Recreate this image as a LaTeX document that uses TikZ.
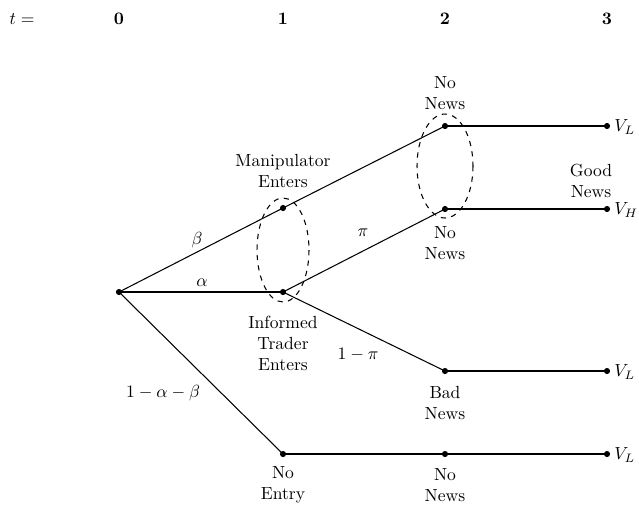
\documentclass[tikz,border=0pt]{standalone}
\begin{document}
\begin{tikzpicture}[x=0.57pt,y=-0.57pt,
  dot/.style={circle,fill=black,inner sep=0pt,minimum size=3.5pt},
  lbl/.style={align=center,inner sep=0pt,font=\normalsize},
  edge/.style={line width=0.6pt},
  info/.style={dashed,line width=0.6pt}]
\useasboundingbox (0,0) rectangle (639,506);
% time labels
\node[lbl] (tlab) at (22,19) {$t=$};
\node[lbl] (t0) at (119,19) {$\mathbf{0}$};
\node[lbl] (t1) at (283,19) {$\mathbf{1}$};
\node[lbl] (t2) at (445,19) {$\mathbf{2}$};
\node[lbl] (t3) at (607,19) {$\mathbf{3}$};
% nodes
\node[dot] (root) at (119,292) {};
\node[dot] (M) at (283,208) {};
\node[dot] (I) at (283,292) {};
\node[dot] (E) at (283,454) {};
\node[dot] (N1) at (445,126) {};
\node[dot] (N2) at (445,209) {};
\node[dot] (B) at (445,371) {};
\node[dot] (N3) at (445,454) {};
\node[dot] (T1) at (607,126) {};
\node[dot] (T2) at (607,209) {};
\node[dot] (T3) at (607,371) {};
\node[dot] (T4) at (607,454) {};
% edges
\draw[edge] (root.center) -- (M.center);
\draw[edge] (root.center) -- (I.center);
\draw[edge] (root.center) -- (E.center);
\draw[edge] (M.center) -- (N1.center);
\draw[edge] (I.center) -- (N2.center);
\draw[edge] (I.center) -- (B.center);
\draw[edge] (E.center) -- (N3.center);
\draw[edge] (N1.center) -- (T1.center);
\draw[edge] (N2.center) -- (T2.center);
\draw[edge] (B.center) -- (T3.center);
\draw[edge] (N3.center) -- (T4.center);
% information sets
\draw[info] (283,250) ellipse [x radius=26, y radius=52];
\draw[info] (445,166) ellipse [x radius=28, y radius=52];
% probabilities
\node[lbl] (beta) at (197,240) {$\beta$};
\node[lbl] (alpha) at (202,283) {$\alpha$};
\node[lbl] (nab) at (163,393) {$1-\alpha-\beta$};
\node[lbl] (pi) at (363,233) {$\pi$};
\node[lbl] (omp) at (358,355) {$1-\pi$};
% text labels
\node[lbl] (mlab) at (283,171) {Manipulator\\Enters};
\node[lbl] (ilab) at (283,343) {Informed\\Trader\\Enters};
\node[lbl] (elab) at (283,485) {No\\Entry};
\node[lbl] (n1lab) at (445,93) {No\\News};
\node[lbl] (n2lab) at (445,243) {No\\News};
\node[lbl] (blab) at (445,403) {Bad\\News};
\node[lbl] (n3lab) at (445,485) {No\\News};
\node[lbl] (glab) at (591,181) {Good\\News};
% payoffs
\node[lbl,anchor=west] (v1) at (614,127) {$V_L$};
\node[lbl,anchor=west] (v2) at (614,210) {$V_H$};
\node[lbl,anchor=west] (v3) at (614,372) {$V_L$};
\node[lbl,anchor=west] (v4) at (614,455) {$V_L$};
\end{tikzpicture}
\end{document}
